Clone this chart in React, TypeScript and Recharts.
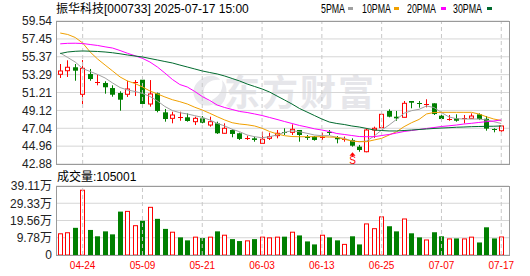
import React from 'react';
import { ComposedChart, Bar, Line, XAxis, YAxis, CartesianGrid, ReferenceLine, ReferenceDot } from 'recharts';

const dates = ['04-21','04-22','04-23','04-24','04-25','04-28','04-29','04-30','05-06','05-07','05-08','05-09','05-12','05-13','05-14','05-15','05-16','05-19','05-20','05-21','05-22','05-23','05-26','05-27','05-28','05-29','05-30','06-03','06-04','06-05','06-06','06-09','06-10','06-11','06-12','06-13','06-16','06-17','06-18','06-19','06-20','06-23','06-24','06-25','06-26','06-27','06-30','07-01','07-02','07-03','07-04','07-07','07-08','07-09','07-10','07-11','07-14','07-15','07-16','07-17'];

const opens = [53.33,53.75,54.15,51.00,53.37,52.47,52.32,51.73,51.15,51.00,52.40,52.70,49.87,51.12,48.90,48.20,48.40,48.32,47.81,48.20,47.42,47.62,46.46,46.84,46.46,45.92,45.87,45.29,45.87,46.18,46.64,46.57,46.84,46.00,46.07,46.02,46.60,45.99,45.74,45.68,44.90,44.31,46.84,47.11,49.06,48.39,48.32,50.22,50.00,49.80,49.95,48.51,48.10,48.20,48.25,48.20,48.67,48.15,46.92,46.76];
const highs = [54.53,54.96,54.53,55.00,53.95,53.33,52.52,52.05,51.35,52.58,52.66,52.90,52.66,51.20,49.29,48.97,48.97,48.78,48.39,48.47,48.39,47.81,47.62,46.92,46.53,46.18,46.07,46.64,46.53,46.84,47.04,47.50,46.84,46.26,46.14,46.53,46.84,46.14,46.07,45.87,45.10,47.04,47.23,48.78,49.25,49.06,50.22,50.22,50.22,50.42,49.95,48.59,48.59,48.67,48.59,48.78,48.78,48.47,47.04,47.42];
const lows = [52.90,53.02,52.58,49.87,52.58,52.05,51.07,50.72,49.09,50.69,50.80,49.49,49.56,48.90,47.81,47.62,47.92,47.81,47.42,47.62,47.23,46.38,46.38,45.99,45.68,45.68,45.48,45.29,45.68,45.87,46.26,46.26,45.48,45.68,45.60,45.68,46.26,45.29,45.48,44.90,44.31,44.24,45.92,47.04,48.32,47.92,48.28,49.37,49.44,49.48,48.59,48.00,47.92,47.81,47.62,48.16,48.00,46.76,46.57,46.64];
const closes = [53.72,54.15,53.75,54.03,52.78,52.47,51.82,50.95,50.37,51.62,52.47,49.87,51.04,49.06,48.12,48.59,48.40,47.89,48.20,47.69,47.81,46.46,47.04,46.38,45.80,45.95,45.68,45.76,46.07,46.46,46.53,46.92,46.26,45.95,45.68,46.07,46.50,45.76,45.78,45.01,44.51,46.84,47.04,48.67,48.39,48.20,49.95,50.02,49.93,49.86,48.70,48.12,48.14,47.92,48.29,48.47,48.12,47.00,46.84,47.31];
const volumes = [123000,129000,154000,370000,142000,106000,134000,117000,246000,250000,169000,194000,273000,205000,148000,132000,100000,83000,104000,96000,104000,134000,115000,90000,79000,83000,90000,104000,100000,104000,104000,132000,111000,77000,60000,115000,100000,83000,63000,106000,60000,179000,152000,219000,163000,134000,207000,123000,100000,88000,129000,106000,94000,94000,94000,104000,71000,157000,94000,105001];

const ma5 = [55.81,55.29,54.76,54.00,53.66,53.31,52.90,52.32,51.79,51.50,51.33,51.10,50.75,50.22,49.58,49.11,48.86,48.71,48.51,48.32,48.01,47.62,47.31,46.93,46.64,46.26,46.06,45.94,46.06,46.26,46.57,46.76,46.64,46.46,46.26,46.18,46.18,45.99,45.87,45.56,45.48,45.56,46.14,46.84,47.42,48.09,48.79,49.09,49.25,49.64,49.46,48.88,48.36,48.16,48.12,48.12,48.12,48.01,47.81,47.60];
const ma10 = [58.14,57.97,57.62,56.98,55.93,55.11,54.41,53.72,53.02,52.55,52.26,51.85,51.39,51.04,50.69,50.37,50.14,49.87,49.49,49.17,48.79,48.39,48.01,47.69,47.54,47.45,47.31,47.04,46.67,46.38,46.18,46.08,46.06,46.06,46.06,46.06,46.02,45.99,45.76,45.56,45.48,45.48,45.68,45.87,46.26,46.64,47.23,47.69,48.07,48.71,48.88,48.90,48.90,48.90,48.90,48.90,48.71,48.39,48.12,47.95];
const ma20 = [56.88,56.94,56.95,56.92,56.80,56.69,56.53,56.39,56.10,55.78,55.49,55.19,54.76,54.18,53.48,52.73,52.14,51.85,51.33,50.74,50.28,49.75,49.46,49.23,49.00,48.88,48.71,48.53,48.30,48.07,47.83,47.60,47.37,47.19,46.98,46.84,46.67,46.43,46.32,46.20,46.08,46.06,46.06,46.20,46.32,46.49,46.67,46.78,46.90,47.02,47.13,47.25,47.33,47.42,47.54,47.62,47.72,47.81,47.89,48.01];
const ma30 = [55.75,55.93,56.01,56.05,56.02,55.99,55.93,55.84,55.72,55.58,55.46,55.35,55.17,55.00,54.82,54.65,54.41,54.18,53.95,53.72,53.54,53.37,53.13,52.84,52.55,52.20,51.91,51.62,51.27,50.80,50.34,49.87,49.35,48.94,48.53,48.12,47.77,47.60,47.48,47.31,47.19,47.02,46.84,46.78,46.73,46.73,46.78,46.84,46.90,46.96,47.02,47.07,47.11,47.16,47.19,47.23,47.25,47.27,47.28,47.31];

const priceTicks = [42.88, 44.96, 47.04, 49.12, 51.21, 53.29, 55.37, 57.45, 59.54];
const volTicks = [0, 97800, 195600, 293300, 391100];
const dateTicks = ['04-24','05-09','05-21','06-03','06-13','06-25','07-07','07-17'];
const signalDate = '06-19';
const signalText = 'S';
const titleText = '振华科技[000733] 2025-07-17 15:00';
const volTitle = '成交量:105001';
const watermarkText = '东方财富';
const legendItems = [
  { name: '5PMA', key: 'ma5', color: '#a0a0a0' },
  { name: '10PMA', key: 'ma10', color: '#f0a000' },
  { name: '20PMA', key: 'ma20', color: '#ff00ff' },
  { name: '30PMA', key: 'ma30', color: '#006a2e' },
];

const RED = '#ff0000';
const GREEN = '#007f00';
const FONT = '"Liberation Sans", "Noto Sans CJK SC", sans-serif';

const data = dates.map((d, i) => {
  const o = opens[i];
  const c = closes[i];
  const prev = i > 0 ? closes[i - 1] : o;
  return {
    date: d, open: o, high: highs[i], low: lows[i], close: c,
    range: [lows[i], highs[i]], vol: volumes[i],
    up: c >= o,
    volUp: c > o ? true : c < o ? false : c >= prev,
    ma5: ma5[i], ma10: ma10[i], ma20: ma20[i], ma30: ma30[i],
  };
});

const Candle = (props: any) => {
  const { x, y, width, height, payload } = props;
  if (!payload) return null;
  const { open, close, high, low, up } = payload;
  const cx = Math.round(x + width / 2) + 0.5;
  const ratio = high - low > 0 ? height / (high - low) : 0;
  const yOf = (v: number) => y + (high - v) * ratio;
  const top = yOf(Math.max(open, close));
  const bot = yOf(Math.min(open, close));
  const color = up ? RED : GREEN;
  const h = Math.max(bot - top, 0);
  if (h < 1.2) {
    return (
      <g>
        <line x1={cx} x2={cx} y1={y} y2={y + height} stroke={color} strokeWidth={1} />
        <line x1={cx - 2.5} x2={cx + 2.5} y1={Math.round(top) + 0.5} y2={Math.round(top) + 0.5} stroke={color} strokeWidth={1} />
      </g>
    );
  }
  if (up) {
    return (
      <g>
        <line x1={cx} x2={cx} y1={y} y2={top} stroke={color} strokeWidth={1} />
        <line x1={cx} x2={cx} y1={bot} y2={y + height} stroke={color} strokeWidth={1} />
        <rect x={cx - 2} y={top} width={4} height={h} fill="#ffffff" stroke={color} strokeWidth={1} />
      </g>
    );
  }
  return (
    <g>
      <line x1={cx} x2={cx} y1={y} y2={y + height} stroke={color} strokeWidth={1} />
      <rect x={cx - 2.5} y={top} width={5} height={h} fill={color} />
    </g>
  );
};

const VolBar = (props: any) => {
  const { x, y, width, height, payload } = props;
  if (!payload) return null;
  const cx = Math.round(x + width / 2) + 0.5;
  if (payload.volUp) {
    return <rect x={cx - 2} y={y + 0.5} width={4} height={Math.max(height - 0.5, 0)} fill="#ffffff" stroke={RED} strokeWidth={1} />;
  }
  return <rect x={cx - 2.5} y={y} width={5} height={height} fill={GREEN} />;
};

const Signal = (props: any) => {
  const { cx, cy } = props;
  const x = Math.round(cx) + 0.5;
  return (
    <g>
      <path d={`M${x - 3},${cy + 9} L${x},${cy + 5.5} L${x + 3},${cy + 9} Z`} fill={RED} />
      <line x1={x} x2={x} y1={cy + 8} y2={cy + 10} stroke={RED} />
      <text x={x} y={cy + 17.5} textAnchor="middle" fill={RED} fontSize={10} fontFamily={FONT}>{signalText}</text>
    </g>
  );
};

const volFmt = (v: number) => (v === 0 ? '0' : (v / 10000).toFixed(2) + '万');

const legendPos = [
  { x: 321, w: 24, sq: 348 },
  { x: 362, w: 29, sq: 394 },
  { x: 407, w: 29, sq: 441 },
  { x: 453, w: 29, sq: 487 },
];

export default function App() {
  const plotLeft = 56;
  const plotRight = 509;
  return (
    <div style={{ position: 'absolute', left: 0, top: 0, width: 530, height: 276, background: '#fff', fontFamily: FONT, overflow: 'hidden' }}>
      <svg width={530} height={276} style={{ position: 'absolute', left: 0, top: 0 }}>
        <g fill="#e8e8ec">
          <path d="M200,104 C190,96 192,84 203,78 C210,74 218,76 220,80 C214,79 206,82 204,89 C202,96 208,102 214,104 C210,106 204,106 200,104 Z" />
          <path d="M212,100 C220,96 224,88 222,80 C228,86 228,96 222,104 C218,108 212,106 212,100 Z" />
        </g>
        <text x={224} y={106} fontSize={36} fontWeight="bold" fill="#e6e6ea" letterSpacing={2} fontFamily='"Noto Sans CJK SC", sans-serif'>{watermarkText}</text>
        <text x={56} y={13} fontSize={12} fill="#000" fontFamily={FONT}>{titleText}</text>
        {legendItems.map((it, i) => (
          <g key={it.key}>
            <text x={legendPos[i].x} y={13} fontSize={12} fill="#000" fontFamily={FONT} textLength={legendPos[i].w} lengthAdjust="spacingAndGlyphs">{it.name}</text>
            <rect x={legendPos[i].sq} y={7} width={5} height={3} fill={it.color} />
          </g>
        ))}
        <text x={57} y={181} fontSize={12} fill="#000" fontFamily={FONT}>{volTitle}</text>
      </svg>

      <div style={{ position: 'absolute', left: 0, top: 0 }}>
        <ComposedChart width={530} height={170} data={data} margin={{ top: 21, right: 530 - plotRight, bottom: 6, left: 0 }}>
          <CartesianGrid vertical={false} stroke="#d6d6d6" />
          <XAxis dataKey="date" type="category" hide padding={{ left: 0.5, right: 4 }} />
          <YAxis type="number" domain={[42.88, 59.54]} ticks={priceTicks} allowDataOverflow width={plotLeft} axisLine={false} tickLine={false} tickSize={0} tickMargin={4} interval={0}
            tick={{ fontSize: 12, fill: '#222', fontFamily: FONT }} tickFormatter={(v: number) => v.toFixed(2)} />
          {dateTicks.map((d) => (
            <ReferenceLine key={d} x={d} stroke="#c8c8c8" strokeDasharray="4 3" />
          ))}
          <Bar dataKey="range" shape={Candle} isAnimationActive={false} barSize={5} />
          {legendItems.map((it) => (
            <Line key={it.key} dataKey={it.key} stroke={it.color} strokeWidth={1} dot={false} activeDot={false} isAnimationActive={false} type="linear" />
          ))}
          <ReferenceDot x={signalDate} y={lows[dates.indexOf(signalDate)]} r={0} shape={Signal} />
        </ComposedChart>
      </div>
      <div style={{ position: 'absolute', left: plotLeft, top: 21, width: plotRight - plotLeft - 1, height: 164 - 21 - 1, border: '1px solid #9a9a9a', pointerEvents: 'none' }} />

      <div style={{ position: 'absolute', left: 0, top: 180 }}>
        <ComposedChart width={530} height={96} data={data} margin={{ top: 6, right: 530 - plotRight, bottom: 0, left: 0 }}>
          <CartesianGrid vertical={false} stroke="#d6d6d6" />
          <XAxis dataKey="date" type="category" ticks={dateTicks} interval={0} padding={{ left: 0.5, right: 4 }} axisLine={false} tickLine={false} tickSize={4} tickMargin={3} height={21}
            tick={{ fontSize: 10, fill: RED, fontFamily: FONT }} />
          <YAxis type="number" domain={[0, 391100]} ticks={volTicks} allowDataOverflow width={plotLeft} axisLine={false} tickLine={false} tickSize={0} tickMargin={4} interval={0}
            tick={{ fontSize: 12, fill: '#222', fontFamily: FONT }} tickFormatter={volFmt} />
          {dateTicks.map((d) => (
            <ReferenceLine key={d} x={d} stroke="#c8c8c8" strokeDasharray="4 3" />
          ))}
          <Bar dataKey="vol" shape={VolBar} isAnimationActive={false} barSize={5} />
        </ComposedChart>
      </div>
      <div style={{ position: 'absolute', left: plotLeft, top: 186, width: plotRight - plotLeft - 1, height: 255 - 186 - 1, border: '1px solid #9a9a9a', pointerEvents: 'none' }} />
    </div>
  );
}
